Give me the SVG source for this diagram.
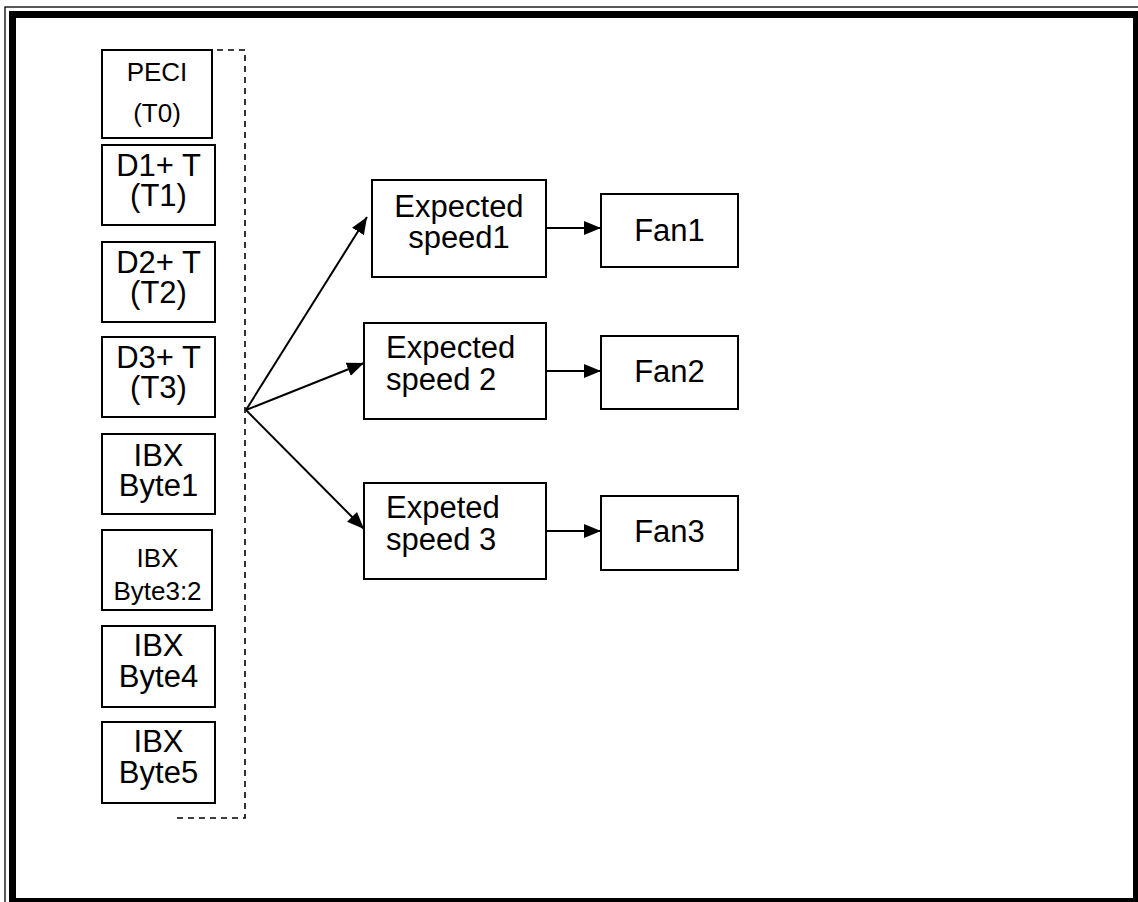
<svg xmlns="http://www.w3.org/2000/svg" width="1138" height="902" viewBox="0 0 1138 902">
<style>
.box{fill:#fff;stroke:#000;stroke-width:2}
.t{font-family:"Liberation Sans",Arial,sans-serif;font-size:31px;fill:#000}
.s{font-size:26px}
.c{text-anchor:middle}
.ln{stroke:#000;stroke-width:2;fill:none}
.dash{stroke:#000;stroke-width:1.6;fill:none;stroke-dasharray:6 5}
</style>
<defs>
<marker id="ah" markerUnits="userSpaceOnUse" markerWidth="18" markerHeight="15" refX="17" refY="7" orient="auto">
<path d="M0,0 L17,7 L0,14 z" fill="#000"/>
</marker>
</defs>
<rect width="1138" height="902" fill="#fff"/>
<g id="frame">
<rect x="5" y="7" width="1140" height="900" fill="none" stroke="#000" stroke-width="1.3"/>
<rect x="12.5" y="14.5" width="1124" height="887" fill="none" stroke="#000" stroke-width="7"/>
</g>
<g id="n-peci"><rect class="box" x="102" y="50" width="110" height="88"/><text class="t s c" x="157" y="81">PECI</text><text class="t s c" x="157" y="122">(T0)</text></g>
<g id="n-d1"><rect class="box" x="102" y="145" width="113" height="80"/><text class="t c" x="158.5" y="176">D1+ T</text><text class="t c" x="158.5" y="206">(T1)</text></g>
<g id="n-d2"><rect class="box" x="102" y="242" width="113" height="80"/><text class="t c" x="158.5" y="273">D2+ T</text><text class="t c" x="158.5" y="303">(T2)</text></g>
<g id="n-d3"><rect class="box" x="102" y="337" width="113" height="80"/><text class="t c" x="158.5" y="368">D3+ T</text><text class="t c" x="158.5" y="398">(T3)</text></g>
<g id="n-ibx1"><rect class="box" x="102" y="434" width="113" height="80"/><text class="t c" x="158.5" y="466">IBX</text><text class="t c" x="158.5" y="496">Byte1</text></g>
<g id="n-ibx32"><rect class="box" x="102" y="530" width="110" height="80"/><text class="t s c" x="157.5" y="567">IBX</text><text class="t s c" x="157.5" y="600">Byte3:2</text></g>
<g id="n-ibx4"><rect class="box" x="102" y="626" width="113" height="81"/><text class="t c" x="158.5" y="656">IBX</text><text class="t c" x="158.5" y="687">Byte4</text></g>
<g id="n-ibx5"><rect class="box" x="102" y="722" width="113" height="81"/><text class="t c" x="158.5" y="752">IBX</text><text class="t c" x="158.5" y="783">Byte5</text></g>
<g id="n-group"><path class="dash" d="M173,50 H245 V818 H173"/></g>
<g id="n-es1"><rect class="box" x="372" y="180" width="174" height="97"/><text class="t c" x="459" y="217">Expected</text><text class="t c" x="459" y="248">speed1</text></g>
<g id="n-es2"><rect class="box" x="364" y="323" width="182" height="96"/><text class="t" x="386" y="358">Expected</text><text class="t" x="386" y="390">speed 2</text></g>
<g id="n-es3"><rect class="box" x="364" y="483" width="182" height="96"/><text class="t" x="386" y="518">Expeted</text><text class="t" x="386" y="550">speed 3</text></g>
<g id="n-fan1"><rect class="box" x="601" y="194" width="137" height="73"/><text class="t c" x="669.5" y="241">Fan1</text></g>
<g id="n-fan2"><rect class="box" x="601" y="336" width="137" height="73"/><text class="t c" x="669.5" y="382">Fan2</text></g>
<g id="n-fan3"><rect class="box" x="601" y="496" width="137" height="74"/><text class="t c" x="669.5" y="542">Fan3</text></g>
<g id="connectors">
<line class="ln" x1="246" y1="410" x2="367" y2="217" marker-end="url(#ah)"/>
<line class="ln" x1="246" y1="410" x2="364" y2="363" marker-end="url(#ah)"/>
<line class="ln" x1="246" y1="410" x2="364" y2="529" marker-end="url(#ah)"/>
<line class="ln" x1="546" y1="228" x2="601" y2="228" marker-end="url(#ah)"/>
<line class="ln" x1="546" y1="371" x2="601" y2="371" marker-end="url(#ah)"/>
<line class="ln" x1="546" y1="531" x2="601" y2="531" marker-end="url(#ah)"/>
</g>
</svg>
